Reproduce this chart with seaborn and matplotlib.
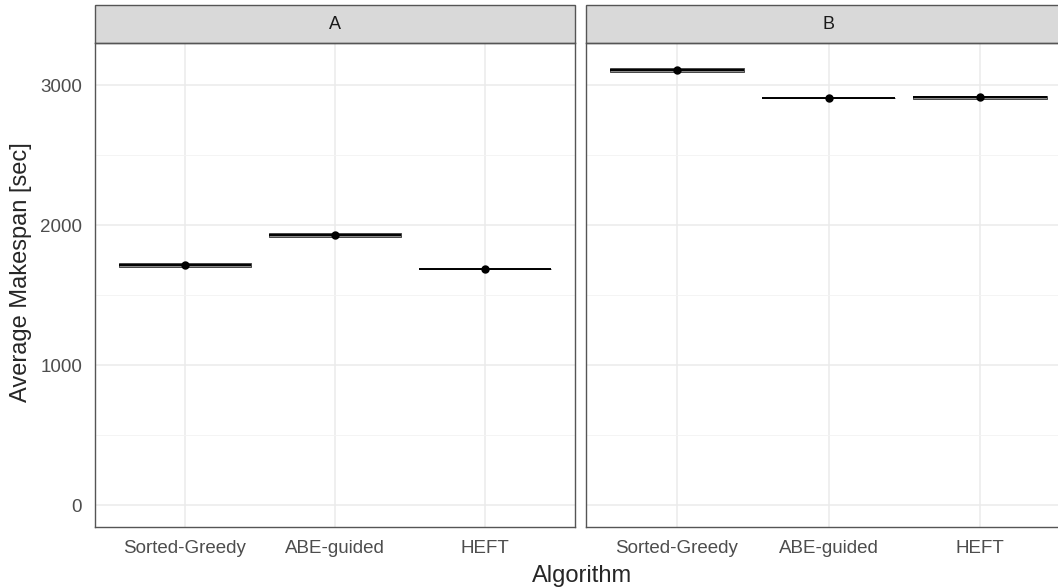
import numpy as np
import pandas as pd
import seaborn as sns
from matplotlib import pyplot as plt
from matplotlib.patches import Rectangle

sns.set_theme(style="whitegrid")
plt.rcParams["font.family"] = ["Liberation Sans", "DejaVu Sans"]

algorithms = ["Sorted-Greedy", "ABE-guided", "HEFT"]
panels = ["A", "B"]
mean_a = [1715, 1930, 1685]
lower_a = [1700, 1915, 1683]
upper_a = [1730, 1944, 1687]
mean_b = [3107, 2907, 2912]
lower_b = [3095, 2905, 2901]
upper_b = [3119, 2909, 2923]

df = pd.DataFrame({
    "panel": np.repeat(panels, len(algorithms)),
    "algorithm": algorithms * len(panels),
    "mean": mean_a + mean_b,
    "lower": lower_a + lower_b,
    "upper": upper_a + upper_b,
})

fig = plt.figure(figsize=(10.58, 5.88), dpi=100)
W, H = 1058, 588
ax_a = fig.add_axes([95 / W, 1 - 527 / H, 480 / W, 484 / H])
ax_b = fig.add_axes([586 / W, 1 - 527 / H, 485 / W, 484 / H], sharey=ax_a)

for ax, name in zip([ax_a, ax_b], panels):
    sub = df[df.panel == name]
    pos = np.arange(len(sub))
    # crossbars
    ax.bar(pos, sub["upper"] - sub["lower"], bottom=sub["lower"], width=0.88,
           facecolor="#8a8a8a", edgecolor="#333333", linewidth=0.6, zorder=2)
    ax.hlines(sub["mean"], pos - 0.44, pos + 0.44, color="black", lw=1.4, zorder=3)
    sns.pointplot(data=sub, x="algorithm", y="mean", order=algorithms, color="black",
                  linestyle="none", errorbar=None, markersize=4, ax=ax, zorder=4)

    ax.set_xlim(-0.6, len(algorithms) - 0.4)
    ax.set_ylim(-157, 3300)
    ax.set_yticks([0, 1000, 2000, 3000])
    ax.set_yticks([500, 1500, 2500], minor=True)
    ax.grid(True, which="major", color="#ebebeb", lw=1.1)
    ax.grid(True, which="minor", axis="y", color="#f3f3f3", lw=0.6)
    ax.set_axisbelow(True)
    for s in ax.spines.values():
        s.set_color("#555555")
        s.set_linewidth(1.0)
    ax.tick_params(axis="both", which="major", length=4.3, width=0.8, color="#555555",
                   labelcolor="#4d4d4d", labelsize=13.5, pad=5)
    ax.tick_params(axis="y", which="minor", length=0)
    ax.set_xlabel("")
    ax.set_ylabel("")

    strip = Rectangle((0, 1), 1, 38 / 484, transform=ax.transAxes, clip_on=False,
                      facecolor="#d9d9d9", edgecolor="#555555", linewidth=1.0)
    ax.add_patch(strip)
    ax.text(0.5, 1 + 19 / 484, name, transform=ax.transAxes, ha="center", va="center",
            fontsize=13, color="#1a1a1a")

ax_b.tick_params(axis="y", which="major", length=0, labelleft=False)

fig.text(582 / W, 1 - 582 / H, "Algorithm", ha="center", va="baseline", fontsize=17)
fig.text(21 / W, 1 - 272 / H, "Average Makespan [sec]", ha="center", va="center",
         rotation=90, fontsize=17)

plt.savefig("out.png", dpi=100)
